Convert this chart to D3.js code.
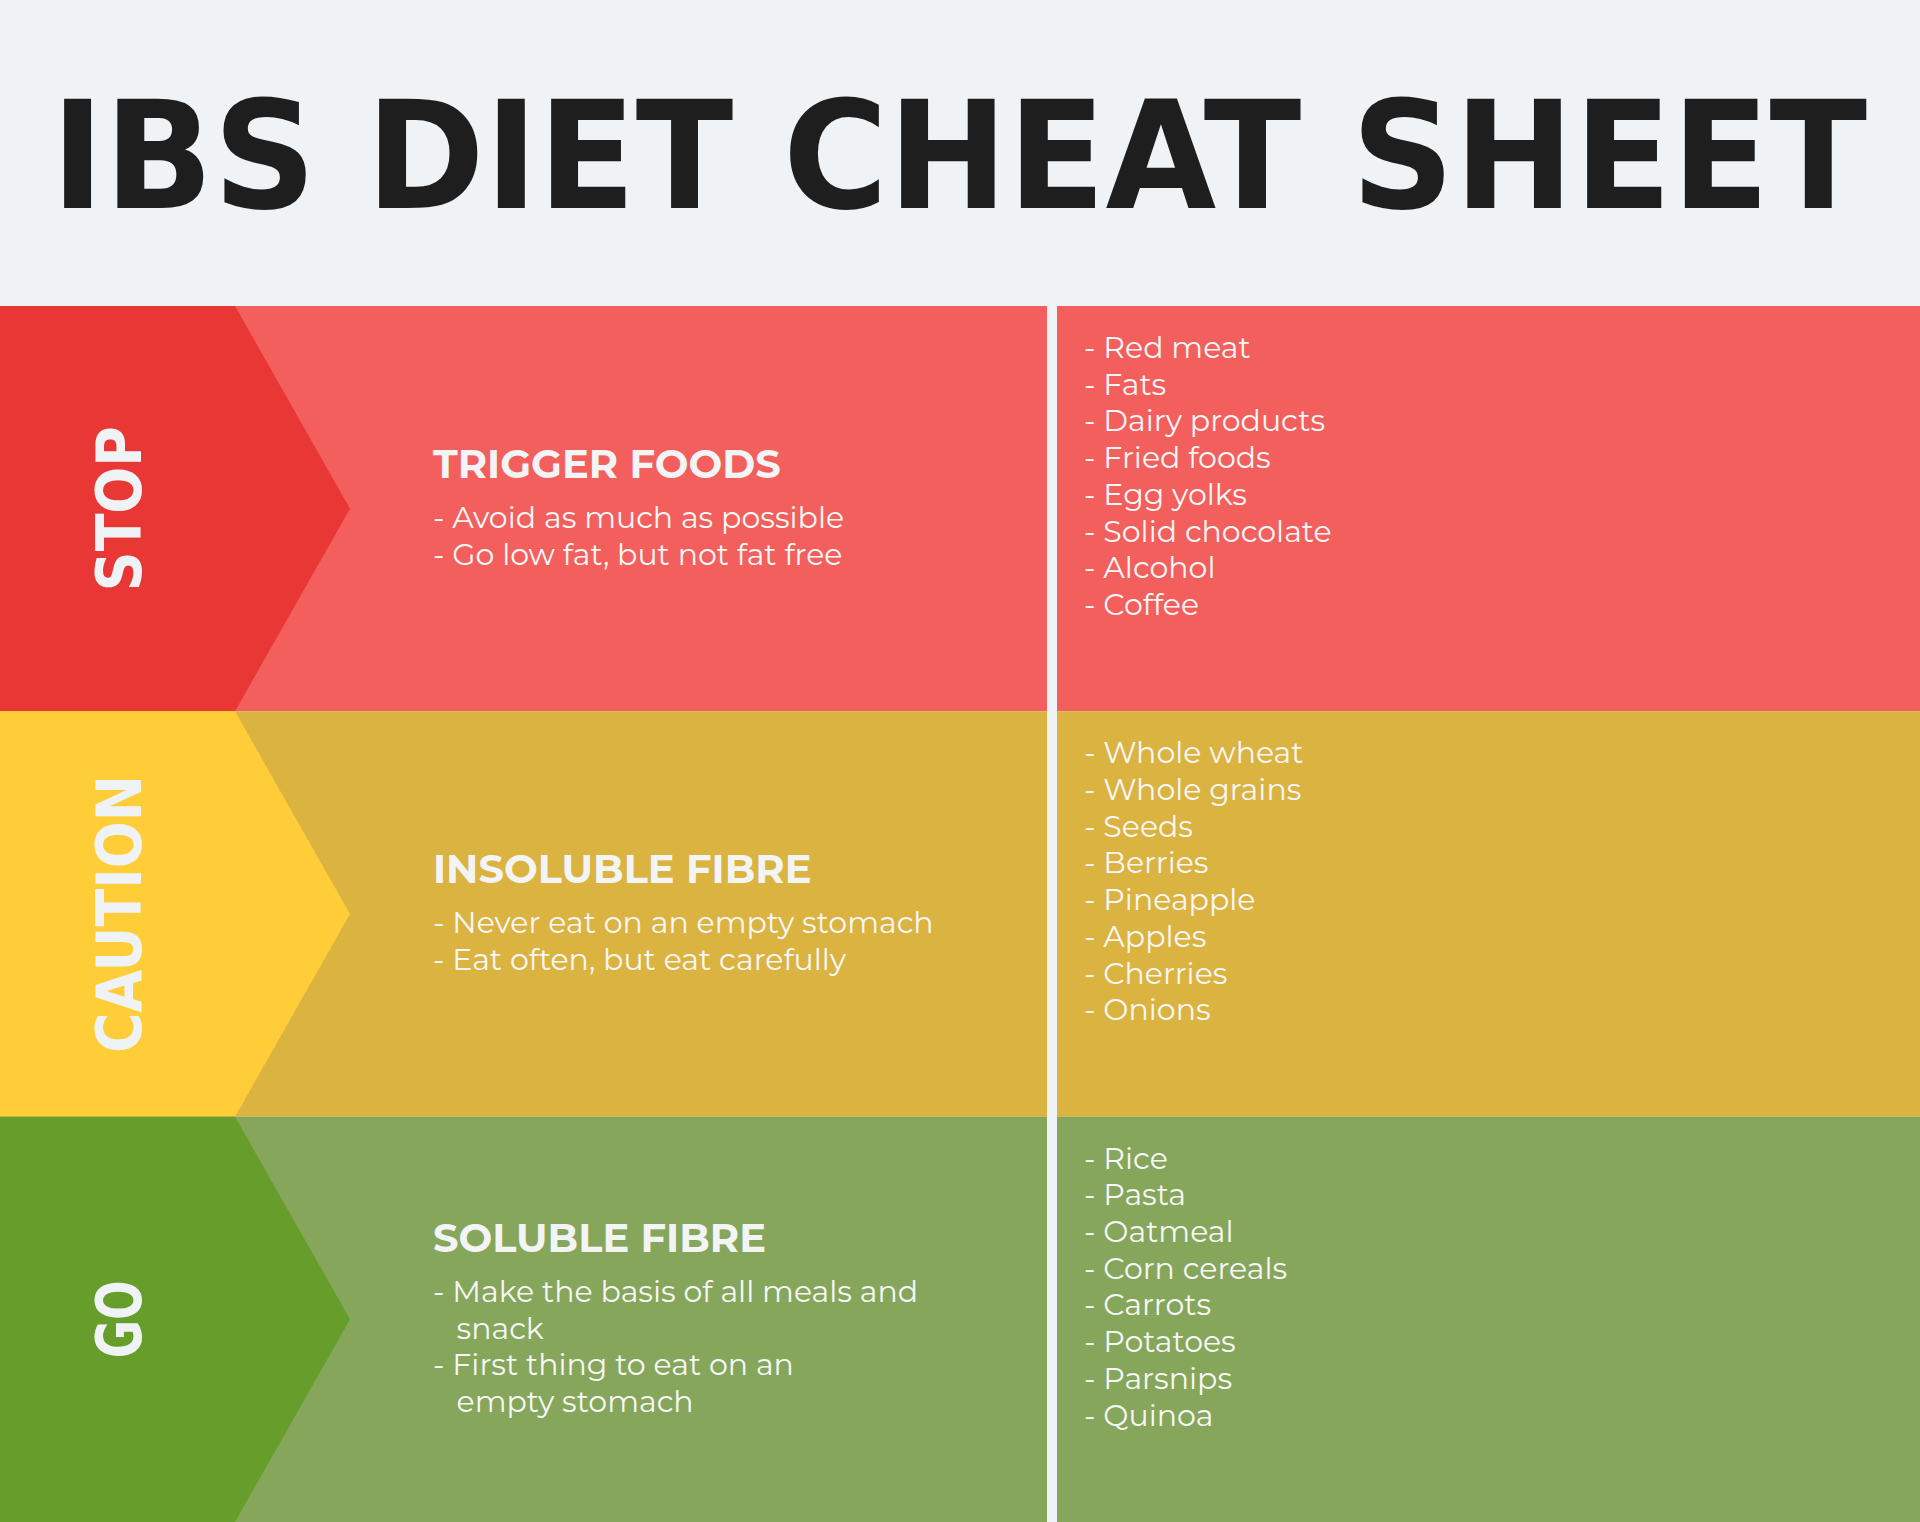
<!DOCTYPE html>
<html><head><meta charset="utf-8">
<script src="https://cdn.jsdelivr.net/npm/d3@7"></script>
<style>body{margin:0;background:#eff3f6}</style>
</head><body>
<svg id="chart"></svg>
<script>
var title = "IBS DIET CHEAT SHEET";
var signals = ["STOP", "CAUTION", "GO"];
var headings = ["TRIGGER FOODS", "INSOLUBLE FIBRE", "SOLUBLE FIBRE"];
var notes = [
  ["- Avoid as much as possible", "- Go low fat, but not fat free"],
  ["- Never eat on an empty stomach", "- Eat often, but eat carefully"],
  ["- Make the basis of all meals and", "   snack", "- First thing to eat on an", "   empty stomach"]
];
var foods = [
  ["Red meat", "Fats", "Dairy products", "Fried foods", "Egg yolks", "Solid chocolate", "Alcohol", "Coffee"],
  ["Whole wheat", "Whole grains", "Seeds", "Berries", "Pineapple", "Apples", "Cherries", "Onions"],
  ["Rice", "Pasta", "Oatmeal", "Corn cereals", "Carrots", "Potatoes", "Parsnips", "Quinoa"]
];
var darkColors = ["#e83735", "#ffcd38", "#679d2a"];
var lightColors = ["#f25f5c", "#dbb340", "#86a65c"];
var labelWidths = [165, 278, 78];

var W = 1920, H = 1522, top0 = 306;
var svg = d3.select("svg#chart").attr("width", W).attr("height", H);
svg.append("rect").attr("width", W).attr("height", H).attr("fill", "#eff3f6");

// title
svg.append("text")
  .attr("x", 51).attr("y", 208)
  .attr("textLength", 1816).attr("lengthAdjust", "spacingAndGlyphs")
  .attr("font-family", "DejaVu Sans Condensed, DejaVu Sans").attr("font-weight", 900)
  .attr("font-size", 150).attr("fill", "#1e1e1e")
  .text(title);

var y = d3.scaleBand().domain(d3.range(3)).range([top0, H]);
var bh = y.bandwidth();
var lh = 36.7;

var g = svg.selectAll("g.band").data(signals).enter().append("g")
  .attr("class", "band")
  .attr("transform", function(d, i) { return "translate(0," + y(i) + ")"; });

g.append("rect").attr("width", 1047).attr("height", bh)
  .attr("fill", function(d, i) { return lightColors[i]; });
g.append("rect").attr("x", 1057).attr("width", W - 1057).attr("height", bh)
  .attr("fill", function(d, i) { return lightColors[i]; });
g.append("path")
  .attr("d", "M0,0H235L350," + bh / 2 + "L235," + bh + "H0Z")
  .attr("fill", function(d, i) { return darkColors[i]; });

g.append("text")
  .attr("transform", "translate(141," + bh / 2 + ") rotate(-90)")
  .attr("text-anchor", "middle")
  .attr("textLength", function(d, i) { return labelWidths[i]; })
  .attr("lengthAdjust", "spacingAndGlyphs")
  .attr("font-family", "DejaVu Sans Condensed, DejaVu Sans").attr("font-weight", 900)
  .attr("font-size", 62).attr("fill", "#eff3f6")
  .text(function(d) { return d; });

g.each(function(d, i) {
  var el = d3.select(this);
  var n = notes[i].length;
  var hy = bh / 2 - n * lh / 2 + 6;
  el.append("text")
    .attr("x", 433).attr("y", hy)
    .attr("font-family", "Montserrat, Open Sans, sans-serif").attr("font-weight", 700)
    .attr("font-size", 40).attr("fill", "#f3f4f6")
    .text(headings[i]);
  el.selectAll("text.note").data(notes[i]).enter().append("text")
    .attr("class", "note")
    .attr("x", 433).attr("y", function(t, j) { return hy + 50 + j * lh; })
    .attr("xml:space", "preserve").style("white-space", "pre")
    .attr("font-family", "Montserrat, Open Sans, sans-serif")
    .attr("font-size", 30).attr("fill", "#f7f7f7")
    .text(function(t) { return t; });
  el.selectAll("text.food").data(foods[i]).enter().append("text")
    .attr("class", "food")
    .attr("x", 1084).attr("y", function(t, j) { return 52 + j * lh; })
    .attr("font-family", "Montserrat, Open Sans, sans-serif")
    .attr("font-size", 30).attr("fill", "#f7f7f7")
    .text(function(t) { return "- " + t; });
});
</script>
</body></html>
